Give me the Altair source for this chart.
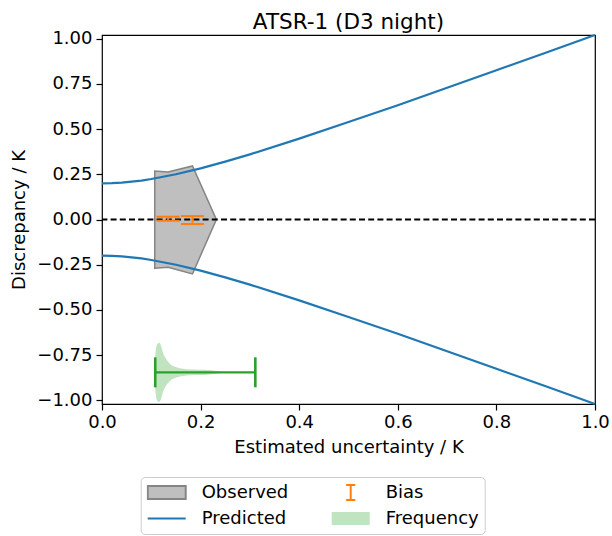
import altair as alt
import pandas as pd

FONT = "DejaVu Sans"

# ---- data ----
pred_x = [0.00, 0.02, 0.04, 0.06, 0.08, 0.10, 0.15, 0.20, 0.25, 0.30, 0.40, 0.50, 0.60, 0.70, 0.80, 0.90, 1.00]
pred_upper = [0.200, 0.201, 0.204, 0.209, 0.215, 0.224, 0.250, 0.283, 0.320, 0.360, 0.447, 0.539, 0.632, 0.728, 0.825, 0.922, 1.020]
pred_lower = [-0.200, -0.201, -0.204, -0.209, -0.215, -0.224, -0.250, -0.283, -0.320, -0.360, -0.447, -0.539, -0.632, -0.728, -0.825, -0.922, -1.020]

obs_x = [0.107, 0.134, 0.1835, 0.232]
obs_hi = [0.268, 0.263, 0.296, 0.0]
obs_lo = [-0.270, -0.264, -0.301, 0.0]

bias_x = [0.134, 0.1835]
bias_lo = [-0.007, -0.025]
bias_hi = [0.0155, 0.019]

freq_x = [0.106, 0.108, 0.110, 0.113, 0.116, 0.119, 0.124, 0.129, 0.134, 0.140, 0.151, 0.165, 0.178, 0.195, 0.210, 0.222, 0.232, 0.242, 0.252]
freq_top = [-0.845, -0.755, -0.705, -0.685, -0.681, -0.693, -0.740, -0.767, -0.786, -0.803, -0.817, -0.825, -0.829, -0.830, -0.831, -0.834, -0.838, -0.842, -0.845]
freq_bottom = [-0.845, -0.935, -0.985, -1.005, -1.009, -0.997, -0.950, -0.923, -0.904, -0.887, -0.873, -0.865, -0.861, -0.860, -0.859, -0.856, -0.852, -0.848, -0.845]

freq_bar_x = [0.108]
freq_bar_x2 = [0.311]
freq_bar_y = [-0.845]

x_ticks = [0.0, 0.2, 0.4, 0.6, 0.8, 1.0]
y_ticks = [-1.0, -0.75, -0.5, -0.25, 0.0, 0.25, 0.5, 0.75, 1.0]

legend_names = ["Observed", "Predicted", "Bias", "Frequency"]
legend_shapes = [
    "M-1,-0.34L1,-0.34L1,0.34L-1,0.34Z",
    "M-1,0L1,0",
    "M-0.24,-0.4L0.24,-0.4M0,-0.4L0,0.4M-0.24,0.4L0.24,0.4",
    "M-1,-0.34L1,-0.34L1,0.34L-1,0.34Z",
]
legend_fills = ["#bfbfbf", "transparent", "transparent", "#c0e3c0"]
legend_strokes = ["#858585", "#1f77b4", "#ff7f0e", "transparent"]

# ---- frames ----
pred_df = pd.DataFrame({
    "x": pred_x + pred_x,
    "y": pred_upper + pred_lower,
    "branch": ["upper"] * len(pred_x) + ["lower"] * len(pred_x),
})
obs_df = pd.DataFrame({"x": obs_x, "y": obs_lo, "y2": obs_hi})
bias_df = pd.DataFrame({"x": bias_x, "y": bias_lo, "y2": bias_hi})
bias_caps = pd.DataFrame({"x": bias_x + bias_x, "y": bias_lo + bias_hi})
freq_df = pd.DataFrame({"x": freq_x, "y": freq_bottom, "y2": freq_top})
fbar_df = pd.DataFrame({"x": freq_bar_x, "x2": freq_bar_x2, "y": freq_bar_y})
fcaps_df = pd.DataFrame({"x": freq_bar_x + freq_bar_x2, "y": freq_bar_y + freq_bar_y})
zero_df = pd.DataFrame({"y": [0.0]})
leg_df = pd.DataFrame({"series": legend_names})

xs = alt.Scale(domain=[0, 1], nice=False, zero=False)
ys = alt.Scale(domain=[-1.02, 1.02], nice=False, zero=False)
xa = alt.Axis(values=x_ticks, format=".1f", labelPadding=3, titlePadding=7, labelFlush=False)
ya = alt.Axis(values=y_ticks, format=".2f", labelPadding=4, titlePadding=8, labelFlush=False)


def X(f="x"):
    return alt.X(f"{f}:Q", scale=xs, axis=xa, title="Estimated uncertainty / K")


def Y(f="y"):
    return alt.Y(f"{f}:Q", scale=ys, axis=ya, title="Discrepancy / K")


observed = alt.Chart(obs_df).mark_area(
    fill="#bfbfbf", stroke="#858585", strokeWidth=1.5, opacity=1
).encode(x=X(), y=Y(), y2="y2:Q")

predicted = alt.Chart(pred_df).mark_line(color="#1f77b4", strokeWidth=2.2).encode(
    x=X(), y=Y(), detail="branch:N"
)

zero = alt.Chart(zero_df).mark_rule(color="black", strokeWidth=2, strokeDash=[6, 3.2]).encode(y=Y())

bias_bar = alt.Chart(bias_df).mark_rule(color="#ff7f0e", strokeWidth=2).encode(
    x=X(), y=Y(), y2="y2:Q"
)
bias_cap = alt.Chart(bias_caps).mark_tick(
    color="#ff7f0e", orient="horizontal", size=23, thickness=2, opacity=1
).encode(x=X(), y=Y())

freq = alt.Chart(freq_df).mark_area(fill="#c0e3c0", opacity=1, interpolate="monotone").encode(
    x=X(), y=Y(), y2="y2:Q"
)
fbar = alt.Chart(fbar_df).mark_rule(color="#2ca02c", strokeWidth=2.4).encode(
    x=X(), x2="x2:Q", y=Y()
)
fcap = alt.Chart(fcaps_df).mark_tick(
    color="#2ca02c", orient="vertical", size=30, thickness=2.6, opacity=1
).encode(x=X(), y=Y())

leg = alt.Legend(
    title=None, orient="none", legendX=38.7, legendY=442, columns=2,
    columnPadding=42, rowPadding=7, clipHeight=19, symbolSize=1444,
    labelOffset=15, labelFontSize=18, labelFont=FONT, labelColor="black",
    padding=6, strokeColor="#cccccc", cornerRadius=4, fillColor="white",
    symbolStrokeWidth=2, symbolOpacity=1,
)
legend_layer = alt.Chart(leg_df).mark_point(filled=True, size=1444, opacity=1, clip=True).encode(
    x=alt.value(-3000),
    y=alt.value(-3000),
    shape=alt.Shape("series:N", scale=alt.Scale(domain=legend_names, range=legend_shapes), legend=leg),
    fill=alt.Fill("series:N", scale=alt.Scale(domain=legend_names, range=legend_fills), legend=leg),
    stroke=alt.Stroke("series:N", scale=alt.Scale(domain=legend_names, range=legend_strokes), legend=leg),
)

chart = alt.layer(
    observed, freq, predicted, zero, bias_bar, bias_cap, fbar, fcap, legend_layer
).properties(
    width=493,
    height=369,
    autosize="none",
    padding={"left": 102, "top": 35, "right": 17, "bottom": 132},
    background="white",
    title=alt.Title(
        "ATSR-1 (D3 night)", fontSize=21.5, font=FONT, fontWeight="normal",
        color="black", baseline="alphabetic", offset=8, dy=29, anchor="middle", frame="group",
    ),
).configure_view(
    stroke="black", strokeWidth=1.2
).configure_axis(
    grid=False, domain=False, tickColor="black", tickSize=6, tickWidth=1.2,
    labelFont=FONT, labelFontSize=18, labelColor="black",
    titleFont=FONT, titleFontSize=18, titleFontWeight="normal", titleColor="black",
)

chart.save("out.html", embed_options={"renderer": "svg", "actions": False})
